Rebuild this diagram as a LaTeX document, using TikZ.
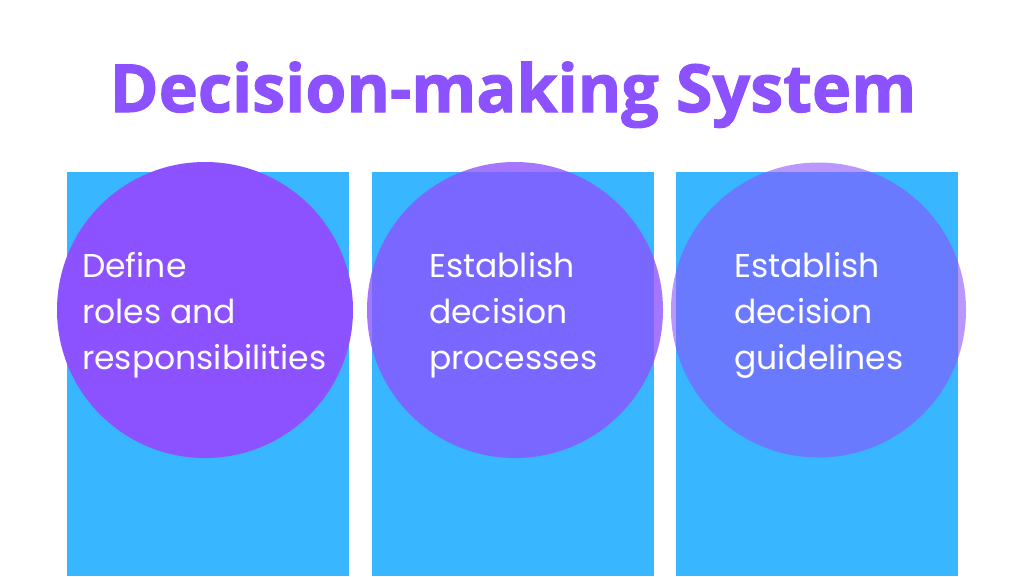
\documentclass[tikz,border=0pt]{standalone}
\usepackage{fontspec}
\setmainfont{Poppins}
\newfontfamily\titlefont{Open Sans}[BoldFeatures={FakeBold=1.6}]
\definecolor{skyblue}{HTML}{38B6FF}
\definecolor{violet}{HTML}{8C52FF}
\tikzset{
  panel/.style={fill=skyblue, draw=none},
  disc/.style={fill=violet, draw=none},
  label/.style={text=white, anchor=base west, align=left, inner sep=0pt,
    font=\fontsize{33}{46}\selectfont}
}
\begin{document}
\begin{tikzpicture}[x=1pt,y=-1pt]
\useasboundingbox (0,0) rectangle (1024,576);
\fill[white] (0,0) rectangle (1024,576);
\node[text=violet, anchor=base, inner sep=0pt, font=\titlefont\bfseries\fontsize{66.3}{70}\selectfont] (title) at (513,112) {Decision-making System};
\path[panel] (67,172) rectangle (349,576);
\path[panel] (372,172) rectangle (654,576);
\path[panel] (676,172) rectangle (958,576);
\path[disc] (205,310) circle (148);
\path[disc, fill opacity=0.78] (515,310) circle (148);
\path[disc, fill opacity=0.6] (818.5,310) circle (147.5);
\node[label] (t1) at (82,369) {Define\\roles and\\responsibilities};
\node[label] (t2) at (429,369) {Establish\\decision\\processes};
\node[label] (t3) at (734,369) {Establish\\decision\\guidelines};
\end{tikzpicture}
\end{document}
